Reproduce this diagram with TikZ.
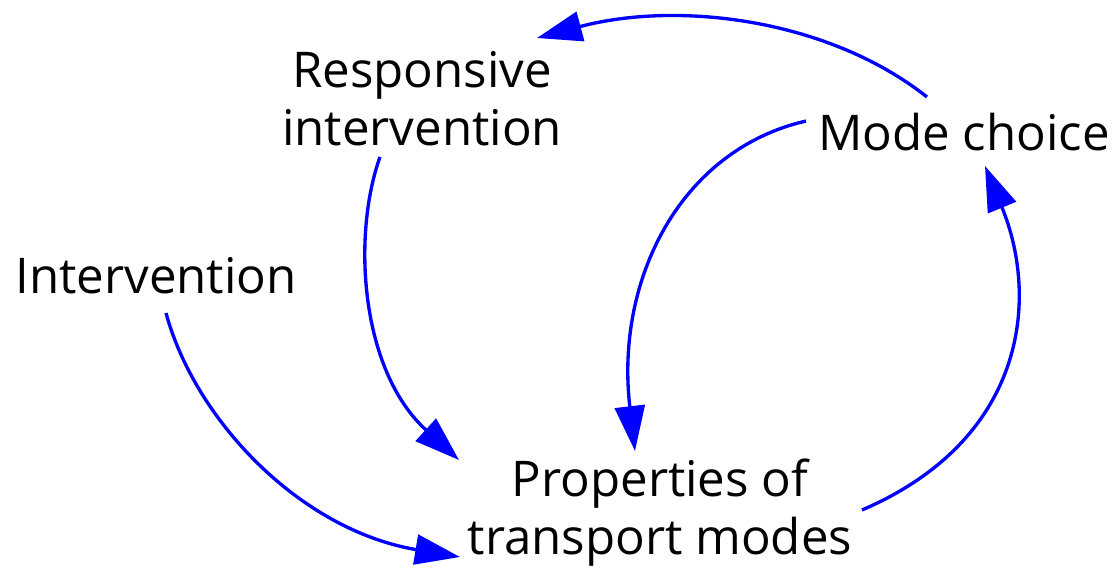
\documentclass[tikz,border=0pt]{standalone}
\usepackage{fontspec}
\setmainfont{Open Sans}
\usetikzlibrary{arrows.meta}
\begin{document}
\begin{tikzpicture}[x=0.02cm,y=-0.02cm,
  lbl/.style={font=\fontsize{28}{33}\selectfont, inner sep=0pt, align=center},
  link/.style={draw=blue, line width=1.9pt, -{Triangle[length=0.9cm,width=0.6cm]}}]
\useasboundingbox (0,0) rectangle (1117,569);
\node[lbl, anchor=base] (int) at (156,293) {Intervention};
\node[lbl] (resp) at (422,99) {Responsive\\intervention};
\node[lbl, anchor=base] (mode) at (964,150) {Mode choice};
\node[lbl] (prop) at (660,513) {Properties of\\transport modes};
\coordinate (s1) at (166,313);
\coordinate (e1) at (460,557);
\coordinate (s2) at (380,157);
\coordinate (e2) at (459,460);
\coordinate (s3) at (806,121);
\coordinate (e3) at (635,451);
\coordinate (s4) at (862,510);
\coordinate (e4) at (985,166);
\coordinate (s5) at (927,97);
\coordinate (e5) at (537,38);
\draw[link] (s1) .. controls (195,420) and (300,530) .. (e1);
\draw[link] (s2) .. controls (352,235) and (360,370) .. (e2);
\draw[link] (s3) .. controls (680,150) and (615,280) .. (e3);
\draw[link] (s4) .. controls (1025,440) and (1040,300) .. (e4);
\draw[link] (s5) .. controls (830,20) and (680,0) .. (e5);
\end{tikzpicture}
\end{document}
